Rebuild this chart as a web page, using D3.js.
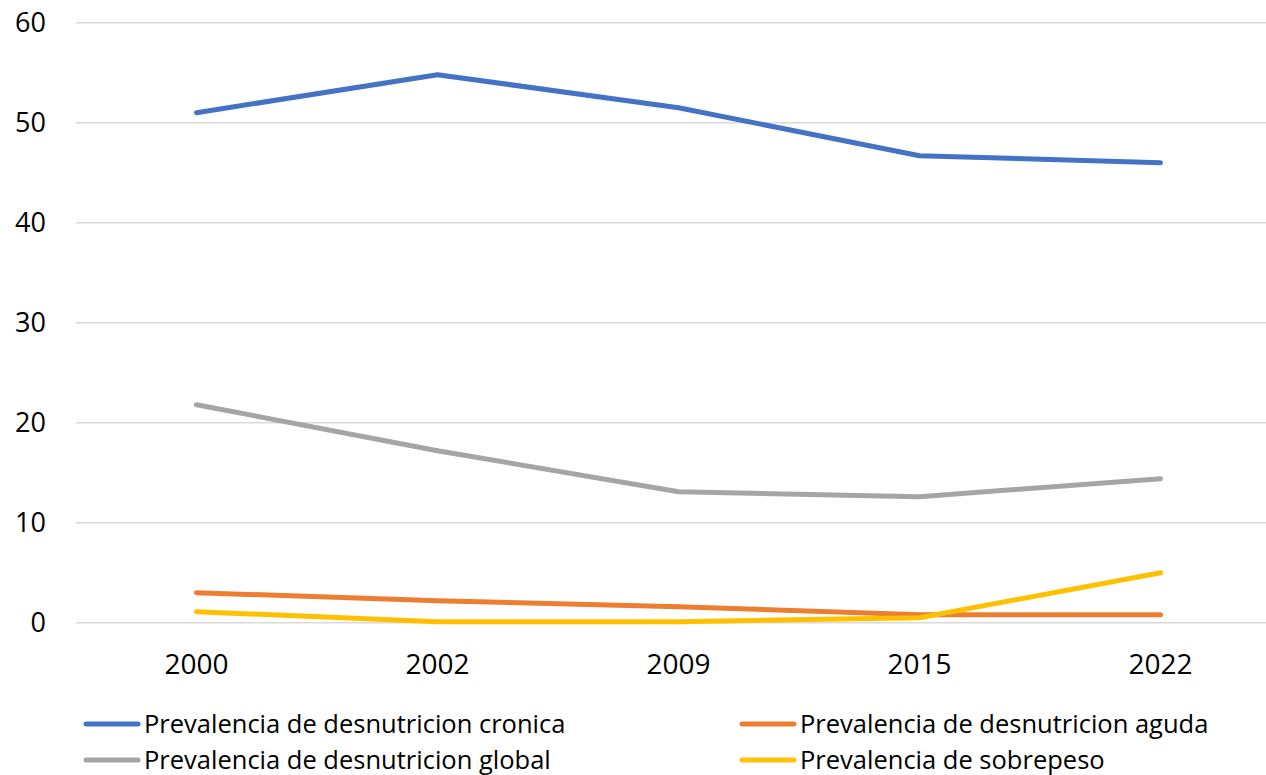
<!DOCTYPE html>
<html>
<head>
<meta charset="utf-8">
<script src="https://cdn.jsdelivr.net/npm/d3@7"></script>
<style>
  body { margin: 0; background: #fff; }
  svg text { font-family: "Open Sans", sans-serif; fill: #000; }
</style>
</head>
<body>
<svg width="1266" height="775"></svg>
<script>
// data
let years = ["2000", "2002", "2009", "2015", "2022"];
let cronica = [51.0, 54.8, 51.5, 46.7, 46.0];
let aguda = [3.0, 2.2, 1.6, 0.8, 0.8];
let global = [21.8, 17.2, 13.1, 12.6, 14.4];
let sobrepeso = [1.1, 0.1, 0.1, 0.5, 5.0];
let yTicks = [0, 10, 20, 30, 40, 50, 60];

let series = [
  { name: "Prevalencia de desnutricion cronica", values: cronica, color: "#4472C4" },
  { name: "Prevalencia de desnutricion aguda", values: aguda, color: "#ED7D31" },
  { name: "Prevalencia de desnutricion global", values: global, color: "#A5A5A5" },
  { name: "Prevalencia de sobrepeso", values: sobrepeso, color: "#FFC000" }
];

let svg = d3.select("svg");

let x = d3.scalePoint().domain(years).range([76, 1281]).padding(0.5);
let y = d3.scaleLinear().domain([0, 60]).range([622.7, 22.7]);

// gridlines
svg.append("g")
  .selectAll("line")
  .data(yTicks)
  .enter().append("line")
  .attr("x1", 76)
  .attr("x2", 1266)
  .attr("y1", d => y(d))
  .attr("y2", d => y(d))
  .attr("stroke", "#d9d9d9")
  .attr("stroke-width", 1.5);

// y labels
svg.append("g")
  .selectAll("text")
  .data(yTicks)
  .enter().append("text")
  .attr("x", 46)
  .attr("y", d => y(d))
  .attr("dy", "0.35em")
  .attr("text-anchor", "end")
  .style("font-size", "27px")
  .text(d => d);

// x labels
svg.append("g")
  .selectAll("text")
  .data(years)
  .enter().append("text")
  .attr("x", d => x(d))
  .attr("y", 674)
  .attr("text-anchor", "middle")
  .style("font-size", "28px")
  .text(d => d);

let line = d3.line()
  .x((d, i) => x(years[i]))
  .y(d => y(d));

svg.append("g")
  .selectAll("path")
  .data(series)
  .enter().append("path")
  .attr("d", d => line(d.values))
  .attr("fill", "none")
  .attr("stroke", d => d.color)
  .attr("stroke-width", 5)
  .attr("stroke-linecap", "round")
  .attr("stroke-linejoin", "round");

// legend, two columns
let leg = svg.append("g")
  .selectAll("g")
  .data(series)
  .enter().append("g")
  .attr("transform", (d, i) => "translate(" + (i % 2 == 0 ? 86 : 742) + "," + (i < 2 ? 724 : 760) + ")");

leg.append("line")
  .attr("x1", 0)
  .attr("x2", 52)
  .attr("stroke", d => d.color)
  .attr("stroke-width", 5)
  .attr("stroke-linecap", "round");

leg.append("text")
  .attr("x", 58)
  .attr("dy", "0.35em")
  .style("font-size", "25.5px")
  .text(d => d.name);
</script>
</body>
</html>
